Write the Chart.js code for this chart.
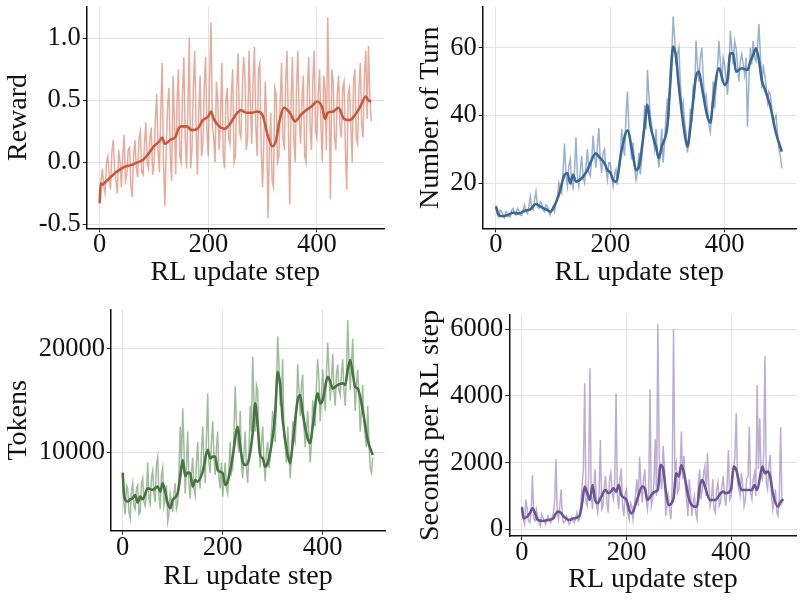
<!DOCTYPE html>
<html>
<head>
<meta charset="utf-8">
<script src="https://cdn.jsdelivr.net/npm/chart.js@4.4.0/dist/chart.umd.min.js"></script>
<style>
html, body { margin: 0; padding: 0; background: #fff; }
#wrap { position: relative; width: 804px; height: 603px; }
canvas { position: absolute; left: 0; top: 0; }
</style>
</head>
<body>
<div id="wrap">
  <canvas id="rewardChart" width="804" height="603"></canvas>
  <canvas id="turnChart" width="804" height="603"></canvas>
  <canvas id="tokenChart" width="804" height="603"></canvas>
  <canvas id="secChart" width="804" height="603"></canvas>
</div>
<script>
// raw curves are read every 5 RL steps, plus one in-between reading (the *Mid arrays, at +2.5)
var rawSteps = [0,5,10,15,20,25,30,35,40,45,50,55,60,65,70,75,80,85,90,95,
  100,105,110,115,120,125,130,135,140,145,150,155,160,165,170,175,180,185,190,195,
  200,205,210,215,220,225,230,235,240,245,250,255,260,265,270,275,280,285,290,295,
  300,305,310,315,320,325,330,335,340,345,350,355,360,365,370,375,380,385,390,395,
  400,405,410,415,420,425,430,435,440,445,450,455,460,465,470,475,480,485,490,495,500];
var stepTicks = [0, 200, 400];

// Reward
var rewardRaw = [-0.33,-0.05,-0.25,0.05,-0.22,0.18,-0.15,0.1,-0.2,0.22,
  -0.1,0.12,-0.28,0.18,-0.12,0.25,-0.1,0.32,-0.05,0.28,
  -0.02,0.55,-0.08,0.8,-0.35,0.45,0.05,0.7,-0.1,0.75,
  0.0,0.85,-0.05,1.0,0.1,0.9,-0.1,0.7,0.15,0.85,
  0.05,1.13,0.2,0.65,0.1,0.8,-0.05,0.6,0.15,0.75,
  0.05,0.88,0.2,0.85,0.1,0.9,0.15,0.93,0.05,0.8,
  -0.2,0.65,-0.45,0.4,-0.2,0.55,0.05,0.8,0.1,0.9,
  -0.34,0.85,0.0,0.9,0.15,0.7,0.0,0.85,0.1,0.9,
  0.2,0.75,0.0,0.6,1.17,-0.3,0.65,0.1,0.7,0.2,
  0.65,-0.22,0.6,0.0,0.75,0.15,0.8,0.2,0.9,0.94,0.33];
var rewardMid = [-0.15,-0.2,0.0,-0.1,0.08,-0.05,-0.25,0.0,0.05,-0.15,
  0.1,-0.2,0.05,-0.05,0.2,-0.08,0.15,0.0,0.2,-0.1,
  0.35,0.1,0.4,0.0,0.1,0.6,-0.15,0.35,0.5,0.05,
  0.55,0.2,0.45,-0.05,0.6,0.3,0.4,0.05,0.6,0.25,
  0.7,0.3,0.0,0.5,0.35,0.05,0.5,0.2,0.55,0.0,
  0.6,0.25,0.55,0.7,0.2,0.5,0.65,0.3,0.75,0.1,
  0.2,0.3,0.1,-0.15,0.6,0.0,0.5,0.2,0.65,0.3,
  0.5,0.2,0.6,0.35,0.5,0.05,0.6,0.3,0.65,0.25,
  0.55,0.3,0.7,0.1,0.5,0.75,0.2,0.55,0.3,0.6,
  0.1,0.55,0.3,0.65,0.2,0.6,0.3,0.7,0.35,0.55];
var rewardSmoothSteps = [0,2,5,10,20,30,40,50,60,70,80,90,100,110,115,120,130,140,145,150,
  160,170,180,190,200,205,210,220,230,240,250,260,270,280,290,300,310,318,325,330,
  340,350,360,370,380,390,400,410,415,420,430,440,450,460,470,480,490,495,500];
var rewardSmooth = [-0.33,-0.17,-0.18,-0.16,-0.12,-0.08,-0.05,-0.03,-0.02,0.0,0.02,0.07,0.13,0.17,0.2,0.15,0.18,0.21,0.27,0.29,
  0.29,0.26,0.27,0.34,0.37,0.41,0.35,0.29,0.27,0.31,0.38,0.42,0.40,0.40,0.41,0.38,0.21,0.13,0.18,0.31,
  0.44,0.40,0.33,0.38,0.42,0.45,0.49,0.44,0.35,0.40,0.41,0.44,0.35,0.34,0.38,0.45,0.53,0.50,0.49];
var rewardTicks = [-0.5, 0.0, 0.5, 1.0];

// Number of turn
var turnRaw = [13.5,10,11.5,9.8,11.2,10,12.5,10.5,11.8,10.4,
  13.5,11,16,12,17.5,12.5,14,11.5,13,10.5,
  13,14,20,17,31.7,19,27,18.5,33.5,19,
  28,20,30,22,34,24.5,36.2,23,30,21,
  26,19,24,25,36,28,47,31,32,21,
  29,27,43,53.4,40,33,36,24.5,36,32,
  45,54,69.2,55,60,42,38,29,42,48,
  62,50,60,44,42,35,50,48,62,50,
  55,46,65,55,60,50,58,52,36.6,60,
  62,56,67,48,52,44,46,38,40,30,24.3];
var turnMid = [11,12,10.5,11.5,10,12,11,12.5,10.5,12,
  11.5,13,12.5,15,13,14.5,12,13.5,11.5,12,
  11.5,16,18,24,22,25,20,24,22,23.5,
  21.5,25,23,27,28,31,26.5,29,24,26,
  22,22.5,19.5,28,31,40,36,27,25,23,
  22.5,33,36,46,37,30,28.5,29,26,40,
  39,58,63,58,50,44,35,33,38,46,
  55,57,52,46,37,40,42,54,56,57,
  51,52,60,62,55,56,55,57,50,55,
  57,60,58,55,49,47,42,39,35,28];
var turnSmoothSteps = [0,5,10,20,30,40,50,60,70,80,90,95,100,110,120,125,130,135,140,150,
  160,170,175,180,190,195,200,205,210,220,230,240,245,250,260,265,270,280,285,290,
  300,305,310,315,320,330,335,340,350,355,360,370,375,380,390,400,405,410,415,420,
  430,440,445,450,455,460,465,470,480,490,500];
var turnSmooth = [13.0,10.5,10.2,10.5,11.2,11.0,11.8,12.2,13.8,12.8,12.0,11.5,12.5,16.5,22.4,22.9,19.9,22.4,20.4,21.4,
  23.8,27.8,28.8,27.8,25.8,23.8,23.1,20.9,20.4,29.8,35.5,27.8,23.8,24.8,36.7,43.1,37.1,30.7,27.3,30.7,
  37.1,49.5,60.3,57.3,48.5,34.7,30.7,36.2,51.4,52.9,48.5,39.6,37.8,44.5,53.9,49.0,50.4,58.3,58.3,52.9,
  53.9,53.4,55.9,57.8,59.8,56.4,50.4,47.9,42.6,34.7,29.3];
var turnTicks = [20, 40, 60];

// Tokens
var tokenRaw = [8000,4000,6500,3600,7000,4500,6800,4200,7500,4800,
  9000,5000,8200,5200,9500,4500,8500,5500,3300,6000,
  4200,7000,5000,12500,14260,6000,12000,5500,9500,5800,
  11000,6500,12500,7000,15700,8000,13000,7800,12000,6500,
  5700,9000,6000,11000,8500,16400,11000,14000,7500,12000,
  7000,14500,19260,12000,16000,8500,12500,7200,11000,9500,
  14000,11000,21200,14500,19000,10500,12500,7500,13000,11000,
  18500,13500,17500,10500,14000,9000,15000,12500,19000,13000,
  18000,14000,20600,15000,19500,14500,18500,15500,19000,14500,
  22800,16000,21000,14000,18000,12000,16500,11500,14500,8500,9500];
var tokenMid = [5000,6800,4200,6200,4800,6500,4000,7000,5200,6000,
  5500,7500,6000,8800,5800,7800,4800,6800,4000,5200,
  6000,4500,8000,9000,10500,8500,7000,8000,6500,9000,
  7500,10000,9000,11500,9000,11000,9500,10500,7500,9000,
  7500,6500,8500,8000,12000,13000,10000,9000,10000,8500,
  10000,12000,15000,16500,11000,11000,9000,10000,8500,12000,
  12500,16000,18500,15500,12000,9000,10000,9500,11500,14000,
  16000,16500,12500,12000,11500,11000,13500,16500,17000,15500,
  16000,17500,18000,17000,16000,17500,16000,17500,16000,17500,
  19000,18500,17000,16500,15500,14000,13000,10500,11000,8000];
var tokenSmoothSteps = [0,3,10,15,20,25,30,35,40,50,60,70,75,80,85,90,95,100,110,115,
  120,125,130,135,140,145,150,160,170,175,180,185,190,200,205,210,220,230,235,240,
  245,250,260,265,270,275,280,285,290,300,305,310,315,320,330,335,340,350,355,360,
  370,375,380,390,395,400,405,410,415,420,430,440,445,450,455,460,465,470,480,490,500];
var tokenSmooth = [8030,5710,5230,5450,5550,5870,5130,5710,5450,6520,6360,6680,6190,7000,6190,5070,4580,5390,6030,7650,
  9260,7710,8030,7970,6680,7320,7160,8130,10230,9420,9580,9580,8290,7970,6840,7160,9580,12480,10550,9100,
  8770,8940,11840,14740,12480,9740,9420,8610,8940,11520,13770,17800,16520,13130,9740,8940,10870,15060,15550,13770,
  11350,10870,12480,15710,14740,15060,16350,17320,16840,16190,16520,16680,16520,17970,18940,17650,16350,16190,14100,11190,9740];
var tokenTicks = [10000, 20000];

// Seconds per RL step
var secRaw = [700,150,600,200,1630,250,400,100,350,150,
  400,200,500,2100,300,1200,200,400,150,350,
  200,500,300,1300,4380,700,4830,600,1800,500,
  2680,700,1600,500,1700,900,4080,600,1830,400,
  1200,300,700,600,1500,2180,800,1800,600,4200,
  900,2700,6150,1500,2500,400,1000,300,6000,2000,
  1200,2930,2200,900,1500,400,1000,300,1800,1200,
  1900,2280,700,1500,500,1400,800,1600,700,2380,
  1000,1800,3480,1200,1700,700,1500,3080,900,1700,
  4330,3330,1500,5200,1200,2230,600,1200,400,3060,900];
var secMid = [300,900,250,500,300,600,200,450,250,300,
  250,350,800,500,700,300,250,300,200,250,
  300,250,700,1800,800,1500,1000,1300,700,1100,
  600,1300,800,1500,1100,1400,1000,1500,700,1100,
  500,800,300,1100,700,1400,1500,900,1100,700,
  1400,1000,2200,1200,1900,700,600,1400,1800,1100,
  1700,1500,1300,400,1100,800,500,1400,900,1700,
  1000,1300,900,600,1200,700,1300,1000,1300,900,
  1500,2200,1400,1000,1300,900,1600,1100,1500,1000,
  1800,1600,2300,1400,1900,1000,900,500,1000,800];
var secSmoothSteps = [0,3,10,15,20,25,30,40,50,60,65,70,75,80,90,100,110,115,120,125,
  130,135,140,145,150,160,165,170,175,180,185,190,200,205,210,220,230,235,240,250,
  255,260,265,270,275,280,290,295,300,305,310,320,330,335,340,345,350,360,370,380,
  385,390,400,405,410,420,430,440,445,450,460,465,470,475,480,490,495,500];
var secSmooth = [660,330,380,480,630,480,280,250,280,330,480,530,480,380,280,330,400,780,1280,1080,
  880,1330,880,780,930,1180,1080,1130,1230,1130,1330,1030,880,580,480,880,1280,1230,880,1080,
  1130,1180,1930,1830,1180,730,930,1680,1580,1930,1680,880,680,680,1280,1480,1280,880,880,1080,
  1130,1080,1180,1880,1780,1180,1180,1180,1330,1180,1880,1680,1730,1580,1080,680,830,900];
var secTicks = [0, 2000, 4000, 6000];

var serif = "'Liberation Serif', 'Times New Roman', serif";
var titleSize = 28;
var tickSize = 26.5;

function toPoints(xs, ys) {
  return xs.map(function (x, i) { return { x: x, y: ys[i] }; });
}

// interleave the 5-step readings with the in-between ones
function rawPoints(raw, mid) {
  var pts = [];
  for (var i = 0; i < rawSteps.length; i++) {
    pts.push({ x: rawSteps[i], y: raw[i] });
    if (i < mid.length) pts.push({ x: rawSteps[i] + 2.5, y: mid[i] });
  }
  return pts;
}

function makePanel(id, p) {
  var titleHalf = titleSize * 1.2 / 2;
  var ctx = document.getElementById(id).getContext('2d');
  return new Chart(ctx, {
    type: 'line',
    data: {
      datasets: [{
        data: toPoints(p.smoothSteps, p.smooth),
        borderColor: p.dark,
        borderWidth: 2.6,
        pointRadius: 0,
        cubicInterpolationMode: 'monotone',
        fill: false
      }, {
        data: rawPoints(p.raw, p.mid),
        borderColor: p.light,
        borderWidth: 1.5,
        pointRadius: 0,
        tension: 0,
        fill: false
      }]
    },
    options: {
      responsive: false,
      animation: false,
      events: [],
      layout: {
        padding: { left: p.cellLeft, top: p.top, right: 804 - p.right, bottom: 0 }
      },
      plugins: { legend: { display: false }, tooltip: { enabled: false } },
      scales: {
        x: {
          type: 'linear',
          min: p.xMin,
          max: p.xMax,
          afterBuildTicks: function (s) { s.ticks = stepTicks.map(function (v) { return { value: v }; }); },
          afterFit: function (s) {
            s.height = 603 - p.bottom;
            s.paddingLeft = 0; s.paddingRight = 0;
          },
          grid: { color: '#e3e3e3', lineWidth: 1, tickColor: '#222', tickLength: 4 },
          border: { display: true, color: '#111', width: 1.5 },
          ticks: {
            color: '#111', padding: -3, maxRotation: 0, autoSkip: false,
            font: { family: serif, size: tickSize },
            callback: function (v) { return String(v); }
          },
          title: {
            display: true, text: 'RL update step', color: '#111',
            font: { family: serif, size: titleSize },
            padding: { top: 0, bottom: 603 - p.xTitleY - titleHalf }
          }
        },
        y: {
          type: 'linear',
          min: p.yMin,
          max: p.yMax,
          afterBuildTicks: function (s) { s.ticks = p.ticks.map(function (v) { return { value: v }; }); },
          afterFit: function (s) {
            s.width = p.left - p.cellLeft;
            s.paddingTop = 0; s.paddingBottom = 0;
          },
          grid: { color: '#e3e3e3', lineWidth: 1, tickColor: '#222', tickLength: 4 },
          border: { display: true, color: '#111', width: 1.5 },
          ticks: {
            color: '#111', padding: 2, autoSkip: false,
            font: { family: serif, size: tickSize },
            callback: p.fmt
          },
          title: {
            display: true, text: p.yTitle, color: '#111',
            font: { family: serif, size: titleSize },
            padding: { top: p.yTitleX - p.cellLeft - titleHalf, bottom: 0 }
          }
        }
      }
    }
  });
}

makePanel('rewardChart', {
  raw: rewardRaw, mid: rewardMid, smoothSteps: rewardSmoothSteps, smooth: rewardSmooth, ticks: rewardTicks,
  dark: '#c9583b', light: 'rgba(214,110,85,0.58)', yTitle: 'Reward',
  fmt: function (v) { return v.toFixed(1); },
  cellLeft: 0, left: 86.7, top: 6.7, right: 384, bottom: 228.3,
  xMin: -23.9, xMax: 523.6, yMin: -0.532, yMax: 1.255,
  yTitleX: 18.8, xTitleY: 272.5
});
makePanel('turnChart', {
  raw: turnRaw, mid: turnMid, smoothSteps: turnSmoothSteps, smooth: turnSmooth, ticks: turnTicks,
  dark: '#3a6797', light: 'rgba(80,120,170,0.58)', yTitle: 'Number of Turn',
  fmt: function (v) { return String(v); },
  cellLeft: 402, left: 482.7, top: 7, right: 796, bottom: 228.3,
  xMin: -23.2, xMax: 524.9, yMin: 6.62, yMax: 72.0,
  yTitleX: 431, xTitleY: 272.5
});
makePanel('tokenChart', {
  raw: tokenRaw, mid: tokenMid, smoothSteps: tokenSmoothSteps, smooth: tokenSmooth, ticks: tokenTicks,
  dark: '#467542', light: 'rgba(90,140,85,0.58)', yTitle: 'Tokens',
  fmt: function (v) { return String(v); },
  cellLeft: 0, left: 111, top: 310, right: 385, bottom: 530.7,
  xMin: -23.4, xMax: 524.6, yMin: 2410, yMax: 23775,
  yTitleX: 19, xTitleY: 576.5
});
makePanel('secChart', {
  raw: secRaw, mid: secMid, smoothSteps: secSmoothSteps, smooth: secSmooth, ticks: secTicks,
  dark: '#6c5497', light: 'rgba(140,115,180,0.58)', yTitle: 'Seconds per RL step',
  fmt: function (v) { return String(v); },
  cellLeft: 402, left: 509.3, top: 315, right: 796.7, bottom: 536,
  xMin: -24.3, xMax: 525.7, yMin: -201, yMax: 6429,
  yTitleX: 430.5, xTitleY: 579.5
});
</script>
</body>
</html>
